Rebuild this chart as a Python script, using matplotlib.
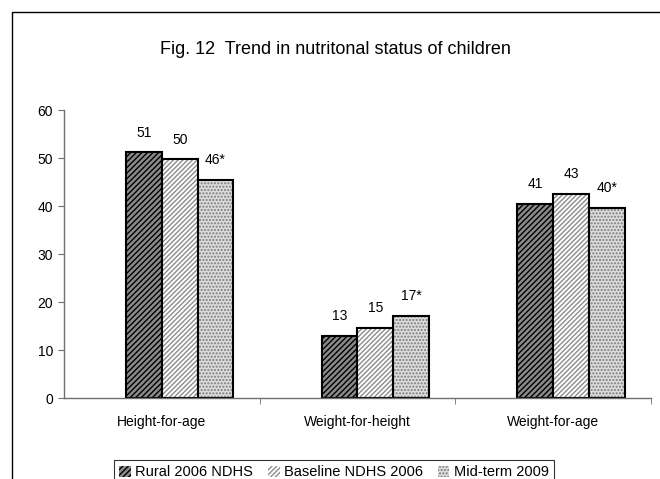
import matplotlib
matplotlib.use("Agg")
import matplotlib.pyplot as plt
import matplotlib.patches as mpatches
import numpy as np

plt.rcParams['font.family'] = ['Liberation Sans', 'DejaVu Sans']
plt.rcParams['hatch.linewidth'] = 1.0

title = "Fig. 12  Trend in nutritonal status of children"
categories = ["Height-for-age", "Weight-for-height", "Weight-for-age"]
series_names = ["Rural 2006 NDHS", "Baseline NDHS 2006", "Mid-term 2009"]
rural = [51.2, 13.0, 40.5]
baseline = [49.7, 14.6, 42.6]
midterm = [45.5, 17.1, 39.6]
value_labels = [["51", "13", "41"], ["50", "15", "43"], ["46*", "17*", "40*"]]
yticks = [0, 10, 20, 30, 40, 50, 60]

series = [rural, baseline, midterm]
faces = ['#8a8a8a', 'white', '#dcdcdc']
hatchcols = ['black', '#8c8c8c', '#7a7a7a']
hatches = ['//////', '///////', '.....']

fig = plt.figure(figsize=(6.6, 4.79), dpi=100)
ax = fig.add_axes([64/660, 1-398/479, (651-64)/660, (398-110)/479])

x = np.arange(len(categories))
w = 0.183
handles = []
for k, (vals, fc, hc, h, name) in enumerate(zip(series, faces, hatchcols, hatches, series_names)):
    pos = x + (k - 0.5) * w
    ax.bar(pos, vals, w, facecolor=fc, edgecolor=hc, hatch=h, linewidth=0)
    ax.bar(pos, vals, w, fill=False, edgecolor='black', linewidth=1.5)
    for px, v, lab in zip(pos, vals, value_labels[k]):
        ax.text(px, v + 2.6, lab, ha='center', va='bottom', fontsize=10)
    handles.append(mpatches.Patch(facecolor=fc, edgecolor=hc, hatch=h, linewidth=0))

ax.set_xlim(-0.5, 2.5)
ax.set_ylim(0, 60)
ax.set_yticks(yticks)
ax.set_yticklabels([str(t) for t in yticks], fontsize=10)
ax.set_xticks(x)
ax.set_xticklabels(categories, fontsize=10)
ax.tick_params(axis='x', which='major', length=0, pad=12)
ax.set_xticks([0.5, 1.5, 2.5], minor=True)
ax.tick_params(axis='x', which='minor', length=4, direction='out', color='#707070')
ax.tick_params(axis='y', length=4, direction='out', color='#707070', pad=4)
for s in ['top', 'right']:
    ax.spines[s].set_visible(False)
for s in ['left', 'bottom']:
    ax.spines[s].set_color('#707070')
    ax.spines[s].set_linewidth(1.0)

fig.text(335/660, 1-50/479, title, ha='center', va='center', fontsize=13)

frame = mpatches.Rectangle((12/660, -0.1), 1.0, 1.1 - 12/479, transform=fig.transFigure,
                           fill=False, edgecolor='black', linewidth=1.0)
fig.patches.append(frame)

leg = fig.legend(handles, series_names, loc='upper center', bbox_to_anchor=(334/660, 1-453/479),
                 ncol=3, fontsize=10.5, frameon=True, fancybox=False, handlelength=0.8,
                 handleheight=0.8, handletextpad=0.3, columnspacing=1.0, borderpad=0.35)
leg.get_frame().set_edgecolor('black')
leg.get_frame().set_linewidth(0.8)

fig.savefig("out.png", dpi=100)
